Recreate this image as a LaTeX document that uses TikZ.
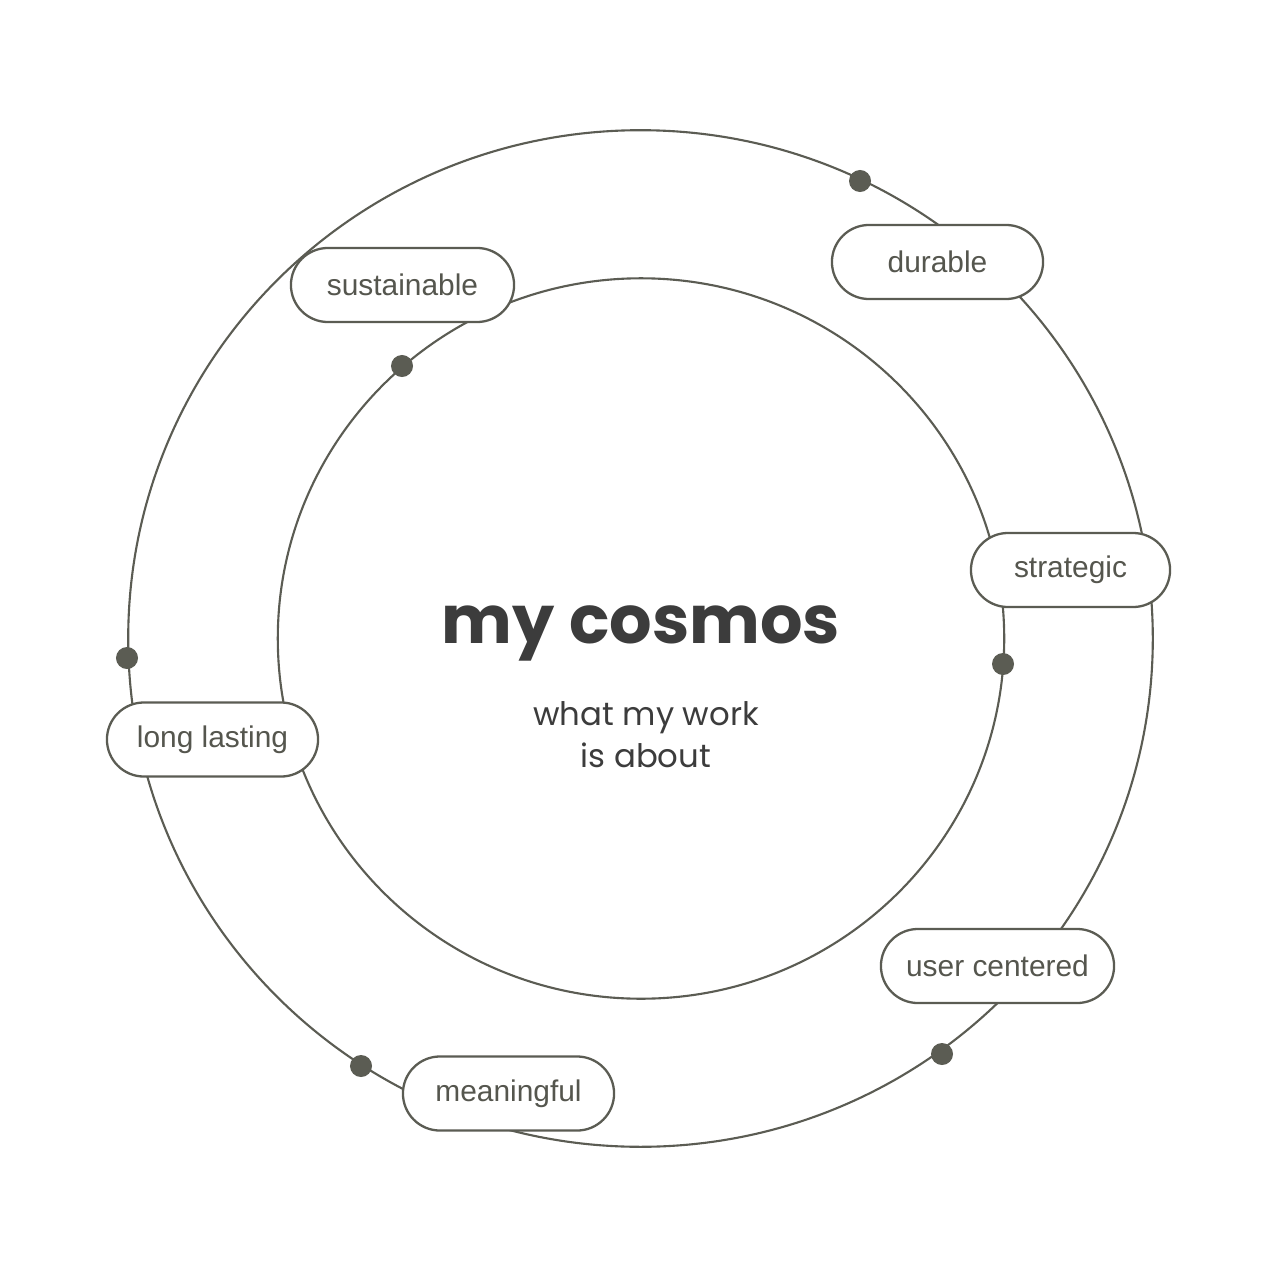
\documentclass[tikz,border=0pt]{standalone}
\usepackage{fontspec}
\setmainfont{Liberation Sans}
\newfontfamily\titlefont{Poppins}
\usetikzlibrary{positioning}
\definecolor{ringgray}{HTML}{5B5C53}
\definecolor{titlegray}{HTML}{3C3C3C}
\definecolor{labelgray}{HTML}{55564E}

\begin{document}
\begin{tikzpicture}[x=0.01cm,y=-0.01cm,
  pill/.style={draw=ringgray,line width=0.65pt,fill=white,rounded corners=0.37cm,
    minimum height=0.74cm,inner sep=0pt,text=labelgray,font=\fontsize{8.5}{10}\selectfont},
  dot/.style={circle,fill=ringgray,inner sep=0pt,minimum size=0.22cm}]
\useasboundingbox[fill=white] (0,0) rectangle (1279,1279);
%rings
\draw[ringgray,line width=0.6pt] (640.5,638.5) ellipse (5.12cm and 5.08cm);
\draw[ringgray,line width=0.6pt] (641,638.5) ellipse (3.63cm and 3.60cm);
%dots on the rings
\node[dot] (dotA) at (860,181) {};
\node[dot] (dotB) at (402,366) {};
\node[dot] (dotC) at (127,658) {};
\node[dot] (dotD) at (1003,664) {};
\node[dot] (dotE) at (942,1054) {};
\node[dot] (dotF) at (361,1066) {};
%labels
\node[pill,minimum width=2.23cm] (sustainable) at (402.5,285) {sustainable};
\node[pill,minimum width=2.11cm] (durable) at (937.5,262) {durable};
\node[pill,minimum width=1.99cm] (strategic) at (1070.5,570) {strategic};
\node[pill,minimum width=2.11cm] (longlasting) at (212.5,739.5) {long lasting};
\node[pill,minimum width=2.33cm] (usercentered) at (997.5,966) {user centered};
\node[pill,minimum width=2.11cm] (meaningful) at (508.5,1093.5) {meaningful};
%title
\node[text=titlegray,font=\titlefont\bfseries\fontsize{19}{23}\selectfont] (title) at (641,633) {my cosmos};
\node[text=titlegray,font=\titlefont\fontsize{9.2}{12}\selectfont,align=center] (subtitle) at (646,735) {what my work\\is about};
\end{tikzpicture}
\end{document}
